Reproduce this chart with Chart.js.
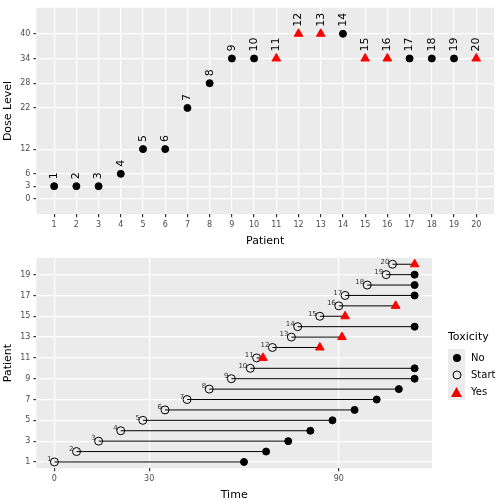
<!DOCTYPE html>
<html><head><meta charset="utf-8">
<script src="https://cdn.jsdelivr.net/npm/chart.js@4/dist/chart.umd.min.js"></script>
<style>
body{margin:0;background:#fff;font-family:"DejaVu Sans",sans-serif}
#wrap{position:relative;width:504px;height:504px}
#c1{position:absolute;left:0;top:0}
#c2{position:absolute;left:0;top:250px}
#leg{position:absolute;left:448px;top:330px;font-size:10px;color:#000}
#leg .t{font-size:11px;margin-bottom:6px}
#leg .r{display:flex;align-items:center;height:17px}
#leg .k{width:17px;height:17px;background:#ebebeb;margin-right:6px;display:flex;align-items:center;justify-content:center}
</style></head><body>
<div id="wrap">
<canvas id="c1" width="504" height="250"></canvas>
<canvas id="c2" width="504" height="254"></canvas>
<div id="leg"><div class="t">Toxicity</div>
<div class="r"><div class="k"><svg width="10" height="10"><circle cx="5" cy="5" r="4" fill="#000"/></svg></div>No</div>
<div class="r"><div class="k"><svg width="10" height="10"><circle cx="5" cy="5" r="4" fill="none" stroke="#000"/></svg></div>Start</div>
<div class="r"><div class="k"><svg width="11" height="10"><polygon points="5.5,0 11,10 0,10" fill="#e00"/></svg></div>Yes</div>
</div>
</div>
<script>
const patients = [1,2,3,4,5,6,7,8,9,10,11,12,13,14,15,16,17,18,19,20];
const doseLevel = [3,3,3,6,12,12,22,28,34,34,34,40,40,40,34,34,34,34,34,34];
const toxic = [0,0,0,0,0,0,0,0,0,0,1,1,1,0,1,1,0,0,0,1];
const doseTicks = [0,3,6,12,22,28,34,40];
const startTime = [0,7,14,21,28,35,42,49,56,62,64,69,75,77,84,90,92,99,105,107];
const endTime = [60,67,74,81,88,95,102,109,114,114,66,84,91,114,92,108,114,114,114,114];
const timeTicks = [0,30,90];

const grey = '#ebebeb';
const bg = {id:'bg',beforeDraw(c){const a=c.chartArea,x=c.ctx;x.save();x.fillStyle=grey;x.fillRect(a.left,a.top,a.right-a.left,a.bottom-a.top);x.restore();}};
const grid = {color:'#fff',lineWidth:1.2,drawTicks:true,tickColor:'#333',tickLength:3};
const tickF = {color:'#4d4d4d',font:{size:8,family:'DejaVu Sans'}};
const titleF = {display:true,color:'#000',font:{size:11,family:'DejaVu Sans'},padding:2};

const labels = {id:'lbl',afterDatasetsDraw(c){const x=c.ctx;x.save();x.font='11px DejaVu Sans';x.fillStyle='#000';x.textBaseline='middle';
 patients.forEach((p,i)=>{const px=c.scales.x.getPixelForValue(p),py=c.scales.y.getPixelForValue(doseLevel[i]);x.save();x.translate(px,py-7);x.rotate(-Math.PI/2);x.fillText(String(p),0,0);x.restore();});x.restore();}};

new Chart(document.getElementById('c1'),{type:'scatter',
 data:{datasets:[{data:patients.map((p,i)=>({x:p,y:doseLevel[i]})),
  pointStyle:toxic.map(t=>t?'triangle':'circle'),
  backgroundColor:toxic.map(t=>t?'#f00':'#000'),borderColor:toxic.map(t=>t?'#f00':'#000'),
  pointRadius:toxic.map(t=>t?5:3.5)}]},
 options:{responsive:false,animation:false,layout:{padding:{top:4,right:10,left:0}},plugins:{legend:{display:false},tooltip:{enabled:false}},
  scales:{x:{type:'linear',min:0.2,max:20.8,afterBuildTicks(a){a.ticks=patients.map(v=>({value:v}));},grid,ticks:tickF,border:{display:false},title:{...titleF,text:'Patient'}},
   y:{type:'linear',min:-3.8,max:46.3,afterBuildTicks(a){a.ticks=doseTicks.map(v=>({value:v}));},grid,ticks:tickF,border:{display:false},title:{...titleF,text:'Dose Level'}}}},
 plugins:[bg,labels]});

const segs = {id:'segs',beforeDatasetsDraw(c){const x=c.ctx;x.save();x.strokeStyle='#000';x.lineWidth=1;
 patients.forEach((p,i)=>{const y=c.scales.y.getPixelForValue(p);x.beginPath();x.moveTo(c.scales.x.getPixelForValue(startTime[i]),y);x.lineTo(c.scales.x.getPixelForValue(endTime[i]),y);x.stroke();});
 x.fillStyle='#333';x.font='7px DejaVu Sans';x.textAlign='right';x.textBaseline='bottom';
 patients.forEach((p,i)=>{x.fillText(String(p),c.scales.x.getPixelForValue(startTime[i])-3,c.scales.y.getPixelForValue(p)+1);});x.restore();}};

new Chart(document.getElementById('c2'),{type:'scatter',
 data:{datasets:[
  {data:patients.map((p,i)=>({x:endTime[i],y:p})),pointStyle:toxic.map(t=>t?'triangle':'circle'),
   backgroundColor:toxic.map(t=>t?'#f00':'#000'),borderColor:toxic.map(t=>t?'#f00':'#000'),pointRadius:toxic.map(t=>t?5:3.5)},
  {data:patients.map((p,i)=>({x:startTime[i],y:p})),pointStyle:'circle',backgroundColor:'rgba(0,0,0,0)',borderColor:'#000',borderWidth:1,pointRadius:4}]},
 options:{responsive:false,animation:false,layout:{padding:{right:72,left:0,top:8}},plugins:{legend:{display:false},tooltip:{enabled:false}},
  scales:{x:{type:'linear',min:-5.7,max:119.5,afterBuildTicks(a){a.ticks=timeTicks.map(v=>({value:v}));},grid,ticks:tickF,border:{display:false},title:{...titleF,text:'Time'}},
   y:{type:'linear',min:0.4,max:20.6,afterBuildTicks(a){a.ticks=patients.map(v=>({value:v}));},grid,ticks:tickF,border:{display:false},title:{...titleF,text:'Patient'}}}},
 plugins:[bg,segs]});
</script></body></html>
